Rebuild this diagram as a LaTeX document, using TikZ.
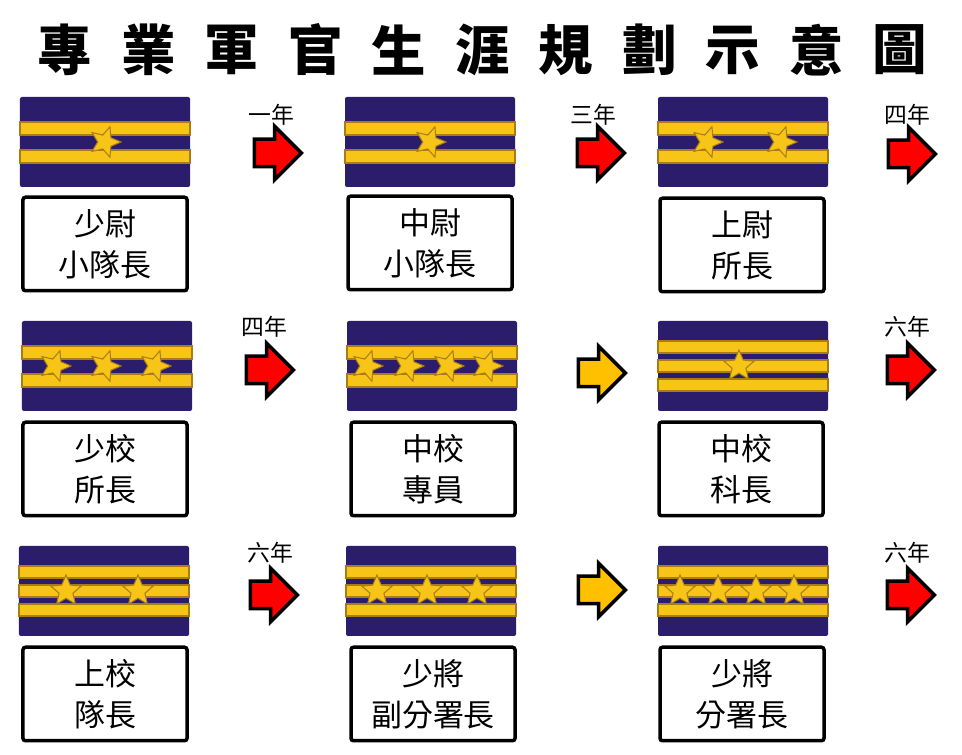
\documentclass[tikz,border=0pt]{standalone}
\usepackage{fontspec}
\usetikzlibrary{shapes.geometric,shapes.arrows}
\newfontfamily\cjk{Noto Sans CJK TC}

\definecolor{navy}{RGB}{43,29,107}
\definecolor{gold}{RGB}{247,196,24}
\definecolor{darkgold}{RGB}{170,125,20}
\definecolor{amber}{RGB}{255,192,0}

\tikzset{
  patch/.style={rectangle, fill=navy, minimum width=34mm, minimum height=18mm, inner sep=0pt, rounded corners=0.4mm},
  stripe/.style={fill=gold, draw=darkgold, line width=0.25mm},
  badgestar/.style={star, star points=5, star point ratio=2.2, fill=gold, draw=darkgold, line width=0.2mm, minimum size=6.4mm, inner sep=0pt},
  rankbox/.style={rectangle, draw=black, line width=0.7mm, rounded corners=0.5mm, minimum width=32.8mm, minimum height=18.7mm, inner sep=0pt, align=center, font=\cjk\fontsize{17.6}{23.3}\selectfont},
  movearrow/.style={single arrow, draw=black, line width=0.7mm, line join=miter, minimum height=9.4mm, minimum width=10mm, single arrow head extend=2.6mm, inner sep=0pt, inner ysep=2.4mm},
  redarrow/.style={movearrow, fill=red},
  ambarrow/.style={movearrow, fill=amber},
  yearlabel/.style={font=\cjk\fontsize{13}{15}\selectfont, inner sep=0pt},
  titlechar/.style={font=\cjk\bfseries\fontsize{31}{37}\selectfont, inner sep=0pt}
}

% two gold bars, stars in the navy gap
\newcommand{\twobar}[3]{%
  \node[patch] (#1) at (#2) {};
  \begin{scope}[shift={(#1.center)}]
    \draw[stripe] (-85,-20) rectangle (85,-7);
    \draw[stripe] (-85,8) rectangle (85,21);
    \foreach \s [count=\k] in {#3}
      \node[badgestar, shape border rotate=-90] (#1s\k) at (\s,0) {};
  \end{scope}}
% three gold bars, stars on the middle bar
\newcommand{\threebar}[3]{%
  \node[patch] (#1) at (#2) {};
  \begin{scope}[shift={(#1.center)}]
    \draw[stripe] (-85,-25) rectangle (85,-13);
    \draw[stripe] (-85,-6) rectangle (85,6);
    \draw[stripe] (-85,13) rectangle (85,25);
    \foreach \s [count=\k] in {#3}
      \node[badgestar] (#1s\k) at (\s,0) {};
  \end{scope}}

\begin{document}
\begin{tikzpicture}[x=0.2mm, y=-0.2mm]
        \path[fill=white, use as bounding box] (0,0) rectangle (962,755);
        % title
        \foreach \c [count=\i from 0] in {專,業,軍,官,生,涯,規,劃,示,意,圖}
          \node[titlechar] (t\i) at (65+83.5*\i,50) {\c};

        % first row
        \twobar{p11}{105,142}{0}
        \twobar{p12}{430,142}{0}
        \twobar{p13}{743,142}{-36,38}
        \node[rankbox] (b11) at (105,244) {少尉\\小隊長};
        \node[rankbox] (b12) at (430,243) {中尉\\小隊長};
        \node[rankbox] (b13) at (742,245) {上尉\\所長};
        \node[redarrow] (a11) at (271,153) {};
        \node[redarrow] (a12) at (594,153) {};
        \node[redarrow] (a13) at (905,154) {};
        \node[yearlabel] (y11) at (271,115) {一年};
        \node[yearlabel] (y12) at (593,115) {三年};
        \node[yearlabel] (y13) at (907,115) {四年};

        % second row
        \twobar{p21}{107,366}{-52,-2,48}
        \twobar{p22}{432,366}{-65,-24,16,55}
        \threebar{p23}{743,366}{-4}
        \node[rankbox] (b21) at (105,469) {少校\\所長};
        \node[rankbox] (b22) at (433,469) {中校\\專員};
        \node[rankbox] (b23) at (741,469) {中校\\科長};
        \node[redarrow] (a21) at (263,370) {};
        \node[ambarrow] (a22) at (595,373) {};
        \node[redarrow] (a23) at (904,370) {};
        \node[yearlabel] (y21) at (264,327) {四年};
        \node[yearlabel] (y23) at (907,327) {六年};

        % third row
        \threebar{p31}{104,591}{-38,34}
        \threebar{p32}{431,591}{-54,-4,46}
        \threebar{p33}{743,591}{-63,-25,13,51}
        \node[rankbox] (b31) at (105,694) {上校\\隊長};
        \node[rankbox] (b32) at (433,694) {少將\\副分署長};
        \node[rankbox] (b33) at (742,694) {少將\\分署長};
        \node[redarrow] (a31) at (267,595) {};
        \node[ambarrow] (a32) at (595,590) {};
        \node[redarrow] (a33) at (904,595) {};
        \node[yearlabel] (y31) at (270,553) {六年};
        \node[yearlabel] (y33) at (907,553) {六年};
\end{tikzpicture}
\end{document}
